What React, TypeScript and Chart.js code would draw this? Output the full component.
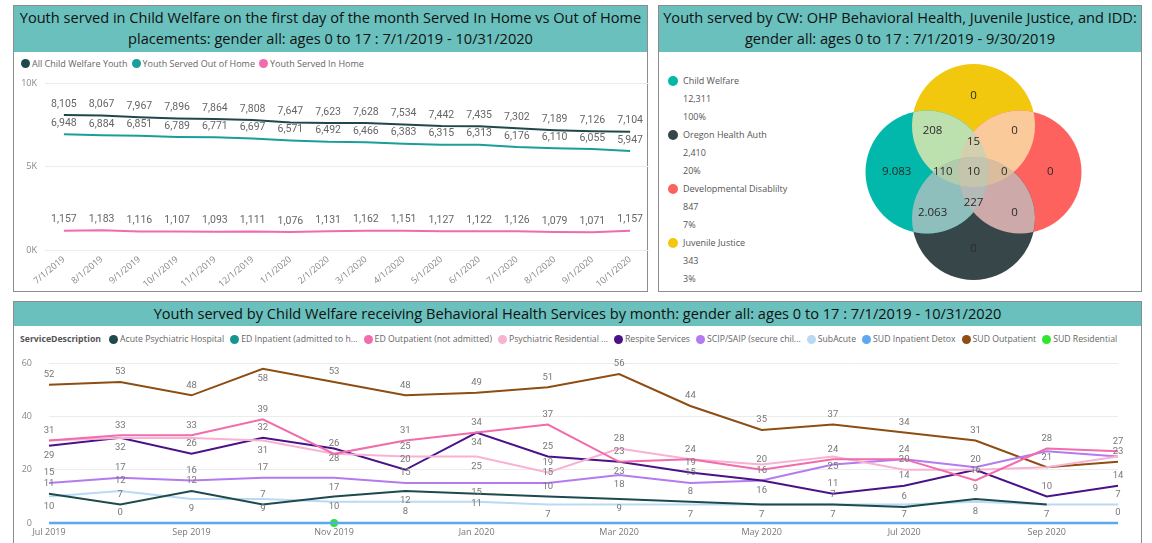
import React, { useEffect, useRef } from 'react';
import { Chart, registerables } from 'chart.js';

Chart.register(...registerables);

const FONT = "'Open Sans', 'Noto Sans', sans-serif";
const LABEL_FONT = "Roboto, 'Open Sans', sans-serif";
const TITLE_BG = '#69C0BD';
const PANEL_BORDER = '#8c8c8c';

// ---------- Top-left: placements ----------
const placementMonths = ['7/1/2019', '8/1/2019', '9/1/2019', '10/1/2019', '11/1/2019', '12/1/2019', '1/1/2020', '2/1/2020', '3/1/2020', '4/1/2020', '5/1/2020', '6/1/2020', '7/1/2020', '8/1/2020', '9/1/2020', '10/1/2020'];
const allChildWelfareYouth = [8105, 8067, 7967, 7896, 7864, 7808, 7647, 7623, 7628, 7534, 7442, 7435, 7302, 7189, 7126, 7104];
const youthOutOfHome = [6948, 6884, 6851, 6789, 6771, 6697, 6571, 6492, 6466, 6383, 6315, 6313, 6176, 6110, 6055, 5947];
const youthInHome = [1157, 1183, 1116, 1107, 1093, 1111, 1076, 1131, 1162, 1151, 1127, 1122, 1126, 1079, 1071, 1157];
const placementSeriesNames = ['All Child Welfare Youth', 'Youth Served Out of Home', 'Youth Served In Home'];
const placementColors = ['#20474C', '#1A9E99', '#F06AB0'];
const placementYTicks = [0, 5000, 10000];

// ---------- Top-right: Venn ----------
const vennSetNames = ['Child Welfare', 'Oregon Health Auth', 'Developmental Disablilty', 'Juvenile Justice'];
const vennSetTotals = ['12,311', '2,410', '847', '343'];
const vennSetPercents = ['100%', '20%', '7%', '3%'];
const vennSetColors = ['#01B8AA', '#374649', '#FD625E', '#F2C80F'];
const vennSetKeys = ['CW', 'OHA', 'DD', 'JJ'];
const vennRegionMembers = [
  ['CW'], ['JJ'], ['DD'], ['OHA'],
  ['CW', 'JJ'], ['JJ', 'DD'], ['CW', 'OHA'], ['DD', 'OHA'],
  ['CW', 'JJ', 'DD'], ['CW', 'JJ', 'OHA'], ['JJ', 'DD', 'OHA'], ['CW', 'DD', 'OHA'],
  ['CW', 'JJ', 'DD', 'OHA'],
];
const vennRegionLabels = ['9.083', '0', '0', '0', '208', '0', '2.063', '0', '15', '110', '0', '227', '10'];

// ---------- Bottom: behavioral health services ----------
const serviceMonths = ['Jul 2019', 'Aug 2019', 'Sep 2019', 'Oct 2019', 'Nov 2019', 'Dec 2019', 'Jan 2020', 'Feb 2020', 'Mar 2020', 'Apr 2020', 'May 2020', 'Jun 2020', 'Jul 2020', 'Aug 2020', 'Sep 2020', 'Oct 2020'];
const acutePsychiatricHospital = [11, 7, 12, 7, 10, 12, 11, 10, 9, 8, 7, 7, 6, 9, 7, null];
const edInpatient = [0, 0, 0, 0, 0, 0, 0, 0, 0, 0, 0, 0, 0, 0, 0, 0];
const edOutpatient = [31, 33, 33, 39, 26, 31, 34, 37, 23, 24, 20, 24, 24, 16, 28, 27];
const psychiatricResidential = [31, 32, 32, 31, 26, 25, 25, 19, 28, 24, 22, 25, 20, 20, 21, 25];
const respiteServices = [29, 32, 26, 32, 28, 20, 34, 25, 23, 19, 16, 11, 14, 20, 10, 14];
const scipSaip = [15, 17, 16, 17, 17, 15, 15, 15, 18, 15, 16, 22, 24, 21, 27, 25];
const subAcute = [10, 12, 9, 9, 8, 8, 8, 7, 7, 7, 7, 7, 7, 8, 7, 7];
const sudInpatientDetox = [0, 0, 0, 0, 0, 0, 0, 0, 0, 0, 0, 0, 0, 0, 0, 0];
const sudOutpatient = [52, 53, 48, 58, 53, 48, 49, 51, 56, 44, 35, 37, 34, 31, 21, 23];
const sudResidential = [null, null, null, null, 0, null, null, null, null, null, null, null, null, null, null, null];
const serviceNames = ['Acute Psychiatric Hospital', 'ED Inpatient (admitted to h...', 'ED Outpatient (not admitted)', 'Psychiatric Residential ...', 'Respite Services', 'SCIP/SAIP (secure chil...', 'SubAcute', 'SUD Inpatient Detox', 'SUD Outpatient', 'SUD Residential'];
const serviceColors = ['#1D4B4D', '#14968F', '#F26BAA', '#F8B2D2', '#4A1289', '#B47AF0', '#BAD9F5', '#5BA8F0', '#8E4D12', '#2EE62E'];
const serviceYTicks = [0, 20, 40, 60];

// ---------- plugins ----------
const valueLabels = {
  id: 'valueLabels',
  afterDatasetsDraw(chart: any, _args: any, opts: any) {
    if (!opts || !opts.enabled) return;
    const ctx = chart.ctx;
    const area = chart.chartArea;
    ctx.save();
    ctx.font = opts.font;
    ctx.fillStyle = opts.color;
    ctx.textAlign = 'center';
    ctx.textBaseline = 'middle';
    const boxes: any[] = [];
    const order = opts.order || chart.data.datasets.map((_: any, i: number) => i);
    order.forEach((di: number) => {
      const ds = chart.data.datasets[di];
      const meta = chart.getDatasetMeta(di);
      meta.data.forEach((pt: any, i: number) => {
        const v = ds.data[i];
        if (v === null || v === undefined) return;
        const text = opts.format ? opts.format(v) : String(v);
        const w = ctx.measureText(text).width;
        const h = opts.lineHeight;
        const cands = opts.collide ? [pt.y - opts.offset, pt.y + opts.offset] : [pt.y - opts.offset];
        for (const cy of cands) {
          const b = { x0: pt.x - w / 2 - 1, x1: pt.x + w / 2 + 1, y0: cy - h / 2, y1: cy + h / 2 };
          if (opts.collide) {
            if (b.y0 < area.top - 6 || b.y1 > area.bottom + 2) continue;
            if (boxes.some((o) => !(b.x1 < o.x0 || b.x0 > o.x1 || b.y1 < o.y0 || b.y0 > o.y1))) continue;
          }
          boxes.push(b);
          ctx.fillText(text, pt.x, cy);
          break;
        }
      });
    });
    ctx.restore();
  },
};

const VENN_R = 1;
const VENN_D = 0.756;
const vennDirs: Record<string, [number, number]> = { CW: [-1, 0], OHA: [0, -1], DD: [1, 0], JJ: [0, 1] };
const vennCenter = (k: string): [number, number] => [vennDirs[k][0] * VENN_D, vennDirs[k][1] * VENN_D];
const vennLabelFactor: Record<number, number> = { 1: 1.65, 2: 0.88, 3: 0.66, 4: 0 };

function hexToRgb(h: string) {
  const n = parseInt(h.slice(1), 16);
  return [(n >> 16) & 255, (n >> 8) & 255, n & 255];
}
function blendColor(keys: string[]) {
  const acc = [0, 0, 0];
  keys.forEach((k) => {
    const c = hexToRgb(vennSetColors[vennSetKeys.indexOf(k)]);
    acc[0] += c[0]; acc[1] += c[1]; acc[2] += c[2];
  });
  const mix = acc.map((v) => Math.round((v / keys.length) * 0.5 + 255 * 0.5));
  return `rgb(${mix[0]},${mix[1]},${mix[2]})`;
}

const vennOverlaps = {
  id: 'vennOverlaps',
  afterDatasetsDraw(chart: any) {
    const ctx = chart.ctx;
    const xs = chart.scales.x;
    const ys = chart.scales.y;
    const rpx = Math.abs(xs.getPixelForValue(VENN_R) - xs.getPixelForValue(0));
    const order = vennRegionMembers.map((_, i) => i).sort((a, b) => vennRegionMembers[a].length - vennRegionMembers[b].length);
    for (const i of order) {
      const members = vennRegionMembers[i];
      if (members.length < 2) continue;
      ctx.save();
      for (const k of members) {
        const c = vennCenter(k);
        ctx.beginPath();
        ctx.arc(xs.getPixelForValue(c[0]), ys.getPixelForValue(c[1]), rpx, 0, Math.PI * 2);
        ctx.clip();
      }
      ctx.fillStyle = blendColor(members);
      ctx.fillRect(0, 0, chart.width, chart.height);
      ctx.restore();
    }
    ctx.save();
    ctx.font = `11.5px ${FONT}`;
    ctx.textAlign = 'center';
    ctx.textBaseline = 'middle';
    vennRegionMembers.forEach((m, i) => {
      let sx = 0;
      let sy = 0;
      m.forEach((k) => { const c = vennCenter(k); sx += c[0]; sy += c[1]; });
      const f = vennLabelFactor[m.length];
      ctx.fillStyle = '#2a2a2a';
      ctx.fillText(vennRegionLabels[i], xs.getPixelForValue(sx * f), ys.getPixelForValue(sy * f));
    });
    ctx.restore();
  },
};

// ---------- components ----------
function PlacementsChart() {
  const ref = useRef<HTMLCanvasElement>(null);
  useEffect(() => {
    const series = [allChildWelfareYouth, youthOutOfHome, youthInHome];
    const chart = new Chart(ref.current as HTMLCanvasElement, {
      type: 'line',
      data: {
        labels: placementMonths,
        datasets: series.map((d, i) => ({
          label: placementSeriesNames[i],
          data: d,
          borderColor: placementColors[i],
          backgroundColor: placementColors[i],
          borderWidth: 2,
          pointRadius: 0,
          tension: 0,
        })),
      },
      options: {
        animation: false,
        responsive: false,
        events: [],
        layout: { padding: { top: 13, right: 1, left: 0, bottom: 0 } },
        plugins: {
          legend: { display: false },
          tooltip: { enabled: false },
          valueLabels: {
            enabled: true,
            font: `10.5px ${LABEL_FONT}`,
            color: '#666',
            offset: 11,
            lineHeight: 11,
            format: (v: number) => v.toLocaleString('en-US'),
          },
        } as any,
        scales: {
          x: {
            offset: true,
            grid: { display: false, drawTicks: false },
            border: { display: false },
            ticks: {
              color: '#888',
              font: { family: FONT, size: 9 },
              maxRotation: 40,
              minRotation: 40,
              autoSkip: false,
              padding: 4,
            },
            afterFit: (s: any) => { s.height = 40; },
          },
          y: {
            min: 0,
            max: 10000,
            afterBuildTicks: (s: any) => { s.ticks = placementYTicks.map((v) => ({ value: v })); },
            grid: { color: '#ececec', drawTicks: false },
            border: { display: false },
            ticks: {
              color: '#888',
              font: { family: FONT, size: 9 },
              padding: 8,
              callback: (v: any) => `${Number(v) / 1000}K`,
            },
            afterFit: (s: any) => { s.width = 31; },
          },
        },
      },
      plugins: [valueLabels],
    });
    return () => chart.destroy();
  }, []);
  return <canvas ref={ref} width={636} height={220} style={{ position: 'absolute', left: 14, top: 70, width: 636, height: 220 }} />;
}

function VennChart() {
  const ref = useRef<HTMLCanvasElement>(null);
  useEffect(() => {
    const W = 247;
    const H = 230;
    const pxPerUnit = 61.5;
    const chart = new Chart(ref.current as HTMLCanvasElement, {
      type: 'scatter',
      data: {
        datasets: vennSetKeys.map((k, i) => ({
          label: vennSetNames[i],
          data: [{ x: vennCenter(k)[0], y: vennCenter(k)[1] }],
          backgroundColor: vennSetColors[i],
          borderWidth: 0,
          pointBorderWidth: 0,
          pointRadius: (ctx: any) => {
            const xs = ctx.chart.scales.x;
            return Math.abs(xs.getPixelForValue(VENN_R) - xs.getPixelForValue(0));
          },
          pointHoverRadius: 0,
          clip: false,
        })) as any,
      },
      options: {
        animation: false,
        responsive: false,
        events: [],
        layout: { padding: 0 },
        plugins: { legend: { display: false }, tooltip: { enabled: false } },
        scales: {
          x: { type: 'linear', display: false, min: -W / 2 / pxPerUnit, max: W / 2 / pxPerUnit },
          y: { type: 'linear', display: false, min: -H / 2 / pxPerUnit, max: H / 2 / pxPerUnit },
        },
      },
      plugins: [vennOverlaps],
    });
    return () => chart.destroy();
  }, []);
  return <canvas ref={ref} width={247} height={230} style={{ position: 'absolute', left: 850, top: 57, width: 247, height: 230 }} />;
}

function ServicesChart() {
  const ref = useRef<HTMLCanvasElement>(null);
  useEffect(() => {
    const series = [acutePsychiatricHospital, edInpatient, edOutpatient, psychiatricResidential, respiteServices, scipSaip, subAcute, sudInpatientDetox, sudOutpatient, sudResidential];
    const chart = new Chart(ref.current as HTMLCanvasElement, {
      type: 'line',
      data: {
        labels: serviceMonths,
        datasets: series.map((d, i) => ({
          label: serviceNames[i],
          data: d,
          borderColor: serviceColors[i],
          backgroundColor: serviceColors[i],
          borderWidth: i === 7 ? 2.5 : 2,
          pointRadius: i === 9 ? 3 : 0,
          tension: 0,
          clip: 4,
          order: i === 1 ? 5 : 0,
        })) as any,
      },
      options: {
        animation: false,
        responsive: false,
        events: [],
        layout: { padding: { top: 9, right: 23, left: 0, bottom: 0 } },
        plugins: {
          legend: { display: false },
          tooltip: { enabled: false },
          valueLabels: {
            enabled: true,
            collide: true,
            order: [8, 2, 4, 3, 5, 0, 6, 7, 1],
            font: `9.5px ${LABEL_FONT}`,
            color: '#777',
            offset: 10,
            lineHeight: 10,
          },
        } as any,
        scales: {
          x: {
            offset: false,
            grid: { display: false, drawTicks: false },
            border: { display: false },
            ticks: {
              color: '#777',
              font: { family: FONT, size: 9 },
              maxRotation: 0,
              autoSkip: false,
              padding: 4,
              callback: (_v: any, idx: number) => (idx % 2 === 0 ? serviceMonths[idx] : ''),
            },
            afterFit: (s: any) => { s.height = 20; },
          },
          y: {
            min: 0,
            max: 60,
            afterBuildTicks: (s: any) => { s.ticks = serviceYTicks.map((v) => ({ value: v })); },
            grid: { color: '#ececec', drawTicks: true, tickLength: 9, tickColor: 'rgba(0,0,0,0)' },
            border: { display: false },
            ticks: { color: '#888', font: { family: FONT, size: 9 }, padding: 8 },
            afterFit: (s: any) => { s.width = 35; },
          },
        },
      },
      plugins: [valueLabels],
    });
    return () => chart.destroy();
  }, []);
  return <canvas ref={ref} width={1127} height={193} style={{ position: 'absolute', left: 14, top: 350, width: 1127, height: 193 }} />;
}

function Panel(props: { left: number; top: number; width: number; height: number; titleHeight: number; title: React.ReactNode }) {
  const { left, top, width, height, titleHeight, title } = props;
  return (
    <div style={{ position: 'absolute', left, top, width, height, border: `1px solid ${PANEL_BORDER}`, background: '#fff', boxSizing: 'border-box' }}>
      <div style={{ height: titleHeight, background: TITLE_BG, color: '#111', fontFamily: FONT, fontSize: 14.6, lineHeight: '21px', textAlign: 'center', whiteSpace: 'nowrap', paddingTop: 1, boxSizing: 'border-box' }}>
        {title}
      </div>
    </div>
  );
}

const Dot = ({ color, size }: { color: string; size: number }) => (
  <span style={{ display: 'inline-block', width: size, height: size, borderRadius: '50%', background: color, marginRight: 2, flex: '0 0 auto' }} />
);

export default function App() {
  return (
    <div style={{ position: 'absolute', left: 0, top: 0, width: 1152, height: 543, overflow: 'hidden', background: '#fff' }}>
      <Panel left={13} top={5} width={635} height={287} titleHeight={46} title={<>Youth served in Child Welfare on the first day of the month Served In Home vs Out of Home<br />placements: gender all: ages 0 to 17 : 7/1/2019 - 10/31/2020</>} />
      <Panel left={658} top={5} width={484} height={287} titleHeight={46} title={<>Youth served by CW: OHP Behavioral Health, Juvenile Justice, and IDD:<br />gender all: ages 0 to 17 : 7/1/2019 - 9/30/2019</>} />
      <Panel left={13} top={301} width={1129} height={250} titleHeight={24} title={<>Youth served by Child Welfare receiving Behavioral Health Services by month: gender all: ages 0 to 17 : 7/1/2019 - 10/31/2020</>} />

      {/* top-left legend */}
      <div style={{ position: 'absolute', left: 21, top: 56, height: 14, display: 'flex', alignItems: 'center', gap: 4, fontFamily: FONT, fontSize: 9, color: '#666', whiteSpace: 'nowrap' }}>
        {placementSeriesNames.map((n, i) => (
          <span key={n} style={{ display: 'flex', alignItems: 'center' }}><Dot color={placementColors[i]} size={9} />{n}</span>
        ))}
      </div>
      <PlacementsChart />

      {/* venn legend */}
      <div style={{ position: 'absolute', left: 668, top: 72, fontFamily: FONT, fontSize: 9, color: '#555', lineHeight: '18px', whiteSpace: 'nowrap' }}>
        {vennSetNames.map((n, i) => (
          <div key={n}>
            <div style={{ display: 'flex', alignItems: 'center' }}><Dot color={vennSetColors[i]} size={10} /><span style={{ marginLeft: 3 }}>{n}</span></div>
            <div style={{ paddingLeft: 15 }}>{vennSetTotals[i]}</div>
            <div style={{ paddingLeft: 15 }}>{vennSetPercents[i]}</div>
          </div>
        ))}
      </div>
      <VennChart />

      {/* bottom legend */}
      <div style={{ position: 'absolute', left: 20, top: 332, height: 14, display: 'flex', alignItems: 'center', gap: 6, fontFamily: FONT, fontSize: 8.7, color: '#666', whiteSpace: 'nowrap' }}>
        <span style={{ fontWeight: 700, color: '#555', marginRight: 2 }}>ServiceDescription</span>
        {serviceNames.map((n, i) => (
          <span key={n} style={{ display: 'flex', alignItems: 'center' }}><Dot color={serviceColors[i]} size={9} />{n}</span>
        ))}
      </div>
      <ServicesChart />
    </div>
  );
}
